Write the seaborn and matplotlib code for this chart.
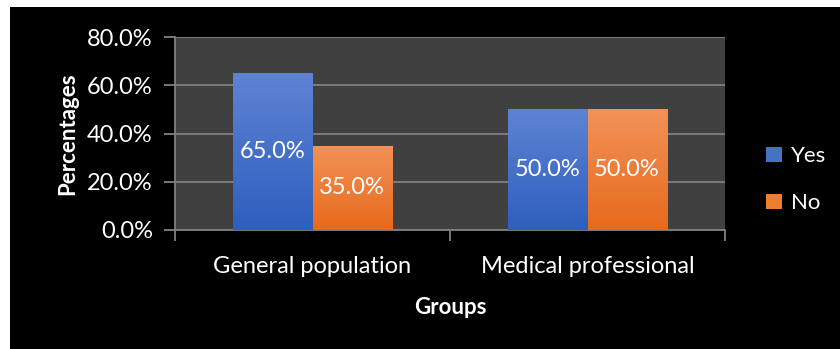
import numpy as np
import pandas as pd
import seaborn as sns
from matplotlib import pyplot as plt
from matplotlib.patches import Rectangle
from matplotlib.colors import LinearSegmentedColormap

groups = ["General population", "Medical professional"]
answers = ["Yes", "No"]
yes_pct = [65.0, 50.0]
no_pct = [35.0, 50.0]
y_ticks = [0, 20, 40, 60, 80]

COLORS = {"Yes": "#4472C4", "No": "#ED7D31"}
GRADIENTS = {
    "Yes": ("#5E83D3", "#2E5FBE"),
    "No": ("#F29258", "#E76A1C"),
}

sns.set_theme(style="dark")
plt.rcParams["font.family"] = ["Lato", "DejaVu Sans"]

df = pd.DataFrame({
    "Groups": groups * 2,
    "Answer": ["Yes"] * len(groups) + ["No"] * len(groups),
    "Percentages": yes_pct + no_pct,
})

fig = plt.figure(figsize=(8.4, 3.49), dpi=100, facecolor="white")
fig.patches.append(Rectangle((10 / 840, 0), 1, 342 / 349, transform=fig.transFigure,
                             facecolor="black", edgecolor="none", zorder=-1))
ax = fig.add_axes([175 / 840, 119 / 349, 550 / 840, 193 / 349])
ax.set_facecolor("#404040")

sns.barplot(data=df, x="Groups", y="Percentages", hue="Answer", hue_order=answers,
            palette=COLORS, width=0.575, ax=ax, saturation=1, zorder=3,
            linewidth=0, edgecolor="none")

ax.set_ylim(0, 80)
ax.set_xlim(-0.5, 1.5)

# gradient fill on each bar
for container, ans in zip(ax.containers, answers):
    cmap = LinearSegmentedColormap.from_list(ans, [GRADIENTS[ans][1], GRADIENTS[ans][0]])
    for bar in container:
        x0, y0 = bar.get_x(), bar.get_y()
        w, h = bar.get_width(), bar.get_height()
        grad = np.linspace(0, 1, 100).reshape(-1, 1)
        im = ax.imshow(grad, cmap=cmap, origin="lower", aspect="auto",
                       extent=(x0, x0 + w, y0, y0 + h), zorder=3.5)
        im.set_clip_path(bar)
    ax.bar_label(container, labels=[f"{v:.1f}%" for v in container.datavalues],
                 label_type="center", color="white", fontsize=17, zorder=5)
ax.set_ylim(0, 80)
ax.set_xlim(-0.5, 1.5)

ax.set_yticks(y_ticks)
ax.set_yticklabels([f"{t:.1f}%" for t in y_ticks], color="white", fontsize=17)
ax.yaxis.grid(True, color="#808080", lw=1.3, zorder=1)
ax.xaxis.grid(False)
ax.tick_params(axis="y", length=8, color="#808080", width=1.3, pad=8, left=True)
ax.set_xticks([0, 1])
ax.set_xticklabels(groups, color="white", fontsize=17)
ax.set_xticks([-0.5, 0.5, 1.5], minor=True)
ax.tick_params(axis="x", which="major", length=0, pad=19)
ax.tick_params(axis="x", which="minor", length=8, color="#808080", width=1.3, bottom=True)

for side in ["top", "right"]:
    ax.spines[side].set_visible(False)
for side in ["left", "bottom"]:
    ax.spines[side].set_color("#808080")
    ax.spines[side].set_linewidth(1.3)

ax.set_xlabel("Groups", color="white", fontsize=16, fontweight="bold", labelpad=14)
ax.set_ylabel("Percentages", color="white", fontsize=16, fontweight="bold", labelpad=6)

leg = ax.legend(loc="center left", bbox_to_anchor=(1.075, 0.26), frameon=False,
                borderaxespad=0, borderpad=0,
                handlelength=0.7, handleheight=0.7, labelspacing=1.2, fontsize=16,
                handletextpad=0.4, title=None)
for t in leg.get_texts():
    t.set_color("white")
for h in leg.legend_handles:
    h.set_edgecolor("none")

fig.savefig("out.png", dpi=100, facecolor=fig.get_facecolor())
